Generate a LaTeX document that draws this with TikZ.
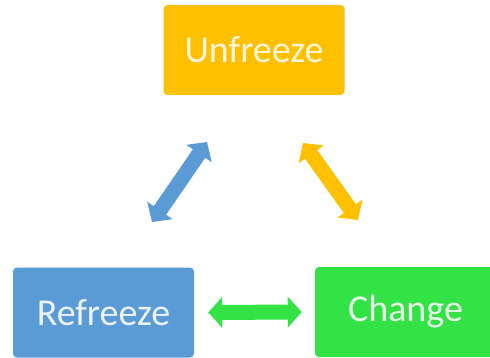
\documentclass[tikz,border=0pt]{standalone}
\usepackage{fontspec}
\setmainfont{Carlito}
\usetikzlibrary{arrows.meta}
\definecolor{unfreezecol}{HTML}{FFC000}
\definecolor{refreezecol}{HTML}{5B9BD5}
\definecolor{changecol}{HTML}{33E244}
\tikzset{
	stage/.style={rounded corners=4pt, minimum width=181pt, minimum height=90pt, inner sep=0pt, font=\fontsize{38}{40}\selectfont},
	link/.style={line width=15pt, {Triangle[width=30pt,length=14pt]}-{Triangle[width=30pt,length=14pt]}}
}
\begin{document}
\begin{tikzpicture}[x=1pt,y=-1pt]
	\clip (0,0) rectangle (490,358);
	% stages
		\node[stage, fill=unfreezecol, text=white!85!unfreezecol] (unfreeze) at (254,50) {Unfreeze};
		\node[stage, fill=refreezecol, text=white!88!refreezecol] (refreeze) at (103.5,312.5) {Refreeze};
		\node[stage, fill=changecol, text=white!88!changecol] (change) at (405.5,312) {Change};
	% arrow ends
		\coordinate (blueLow) at (152,222);
		\coordinate (blueHigh) at (207,142);
		\coordinate (orangeHigh) at (303,143);
		\coordinate (orangeLow) at (358,220);
	% arrows
		\draw[link, refreezecol] (blueLow) -- (blueHigh);
		\draw[link, unfreezecol] (orangeHigh) -- (orangeLow);
		\draw[link, changecol] ([xshift=14pt]refreeze.east) -- ([xshift=-13pt]change.west);
\end{tikzpicture}
\end{document}
